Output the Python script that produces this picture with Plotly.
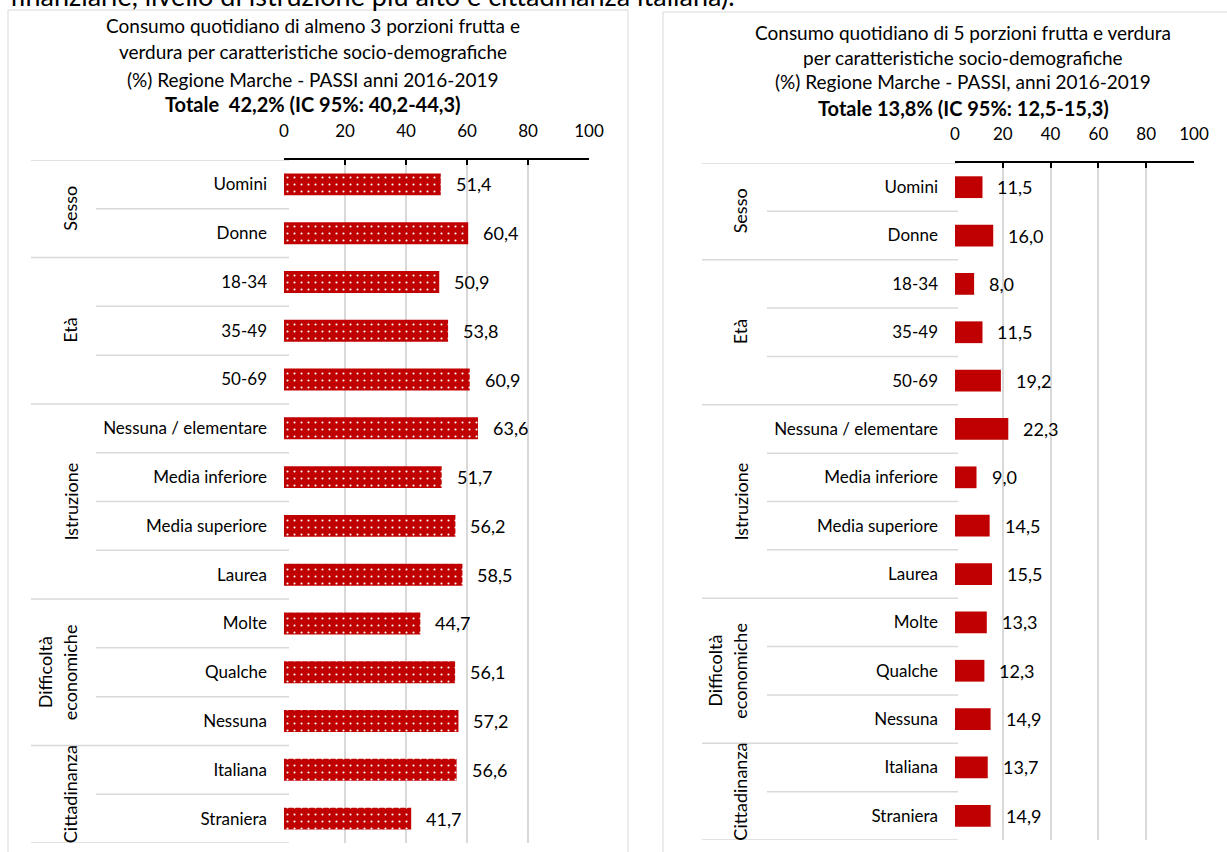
import plotly.graph_objects as go

W, H = 1227, 852
FONT = "Lato"
RED = "#C00000"
GRID = "#D9D9D9"

categories = ["Uomini", "Donne", "18-34", "35-49", "50-69",
              "Nessuna / elementare", "Media inferiore", "Media superiore", "Laurea",
              "Molte", "Qualche", "Nessuna", "Italiana", "Straniera"]
groups = ["Sesso", "Età", "Istruzione", "Difficoltà economiche", "Cittadinanza"]
group_sizes = [2, 3, 4, 3, 2]
values_3 = [51.4, 60.4, 50.9, 53.8, 60.9, 63.6, 51.7, 56.2, 58.5, 44.7, 56.1, 57.2, 56.6, 41.7]
values_5 = [11.5, 16.0, 8.0, 11.5, 19.2, 22.3, 9.0, 14.5, 15.5, 13.3, 12.3, 14.9, 13.7, 14.9]
x_ticks = [0, 20, 40, 60, 80, 100]

title_left = ["Consumo quotidiano di almeno 3 porzioni frutta e",
              "verdura per caratteristiche socio-demografiche",
              "(%) Regione Marche - PASSI anni 2016-2019",
              "<b>Totale  42,2% (IC 95%: 40,2-44,3)</b>"]
title_right = ["Consumo quotidiano di 5 porzioni frutta e verdura",
               "per caratteristiche socio-demografiche",
               "(%) Regione Marche - PASSI, anni 2016-2019",
               "<b>Totale 13,8% (IC 95%: 12,5-15,3)</b>"]
top_text = "finanziarie, livello di istruzione più alto e cittadinanza italiana)."


def px(x):
    return x / W


def py(y):
    return 1 - y / H


def fmt(v):
    return f"{v:.1f}".replace(".", ",")


fig = go.Figure()

fig.add_trace(go.Bar(
    x=values_3, y=categories, orientation="h", xaxis="x", yaxis="y",
    marker=dict(color=RED, line=dict(width=0),
                pattern=dict(shape=".", fgcolor="white", bgcolor=RED, size=7, solidity=0.07,
                             fillmode="replace")),
    hoverinfo="skip", showlegend=False))
fig.add_trace(go.Bar(
    x=values_5, y=categories, orientation="h", xaxis="x2", yaxis="y2",
    marker=dict(color=RED, line=dict(width=0)),
    hoverinfo="skip", showlegend=False))

xaxis_common = dict(range=[0, 100], side="top", tickvals=x_ticks, ticktext=[str(t) for t in x_ticks],
                    showgrid=True, gridcolor=GRID, gridwidth=1.5, zeroline=False,
                    showline=True, linecolor="black", linewidth=1.5,
                    ticks="inside", ticklen=5, tickwidth=1.5, tickcolor="black",
                    ticklabelstandoff=14, automargin=False,
                    tickfont=dict(family=FONT, size=17, color="black"), fixedrange=True)
yaxis_common = dict(categoryorder="array", categoryarray=categories,
                    range=[len(categories) - 0.5, -0.5], showgrid=False, zeroline=False,
                    showline=False, ticks="", ticklabelstandoff=16, automargin=False,
                    tickfont=dict(family=FONT, size=17, color="black"), fixedrange=True)

fig.update_layout(
    width=W, height=H, margin=dict(l=0, r=0, t=0, b=0, autoexpand=False),
    paper_bgcolor="white", plot_bgcolor="white", bargap=0.55,
    xaxis=dict(domain=[px(284), px(589)], anchor="y", **xaxis_common),
    yaxis=dict(domain=[py(843), py(160)], anchor="x", **yaxis_common),
    xaxis2=dict(domain=[px(955), px(1194)], anchor="y2", **xaxis_common),
    yaxis2=dict(domain=[py(840), py(163)], anchor="x2", **yaxis_common),
    font=dict(family=FONT, color="black"),
)

shapes = []
annotations = []

# panel borders
shapes.append(dict(type="rect", xref="paper", yref="paper", x0=px(8), x1=px(628), y0=-0.2, y1=py(10),
                   line=dict(color=GRID, width=1), fillcolor="rgba(0,0,0,0)", layer="below"))
shapes.append(dict(type="rect", xref="paper", yref="paper", x0=px(663), x1=1.2, y0=-0.2, y1=py(12),
                   line=dict(color=GRID, width=1), fillcolor="rgba(0,0,0,0)", layer="below"))

panels = [
    dict(yref="y", xref="x", vals=values_3, full=(31, 289), inner=(96, 289), gx=70, gx2=(45, 70),
         titles=title_left, tx=313, ty=[25, 52, 79, 104]),
    dict(yref="y2", xref="x2", vals=values_5, full=(702, 958), inner=(767, 958), gx=740, gx2=(715, 740),
         titles=title_right, tx=963, ty=[33, 57, 82, 108]),
]

for p in panels:
    # separators
    start = 0
    boundaries_full = [-0.5]
    for gs in group_sizes:
        start += gs
        boundaries_full.append(start - 0.5)
    inner = []
    start = 0
    for gs in group_sizes:
        for k in range(1, gs):
            inner.append(start + k - 0.5)
        start += gs
    for b in boundaries_full:
        shapes.append(dict(type="line", xref="paper", yref=p["yref"], x0=px(p["full"][0]), x1=px(p["full"][1]),
                           y0=b, y1=b, line=dict(color=GRID, width=1.5)))
    for b in inner:
        shapes.append(dict(type="line", xref="paper", yref=p["yref"], x0=px(p["inner"][0]), x1=px(p["inner"][1]),
                           y0=b, y1=b, line=dict(color=GRID, width=1.5)))
    # group labels
    start = 0
    for g, gs in zip(groups, group_sizes):
        center = start + (gs - 1) / 2
        if " " in g:
            parts = g.split(" ")
            for part, gx in zip(parts, p["gx2"]):
                annotations.append(dict(text=part, xref="paper", yref=p["yref"], x=px(gx), y=center,
                                        textangle=-90, showarrow=False, xanchor="center", yanchor="middle",
                                        font=dict(family=FONT, size=18, color="black")))
        else:
            annotations.append(dict(text=g, xref="paper", yref=p["yref"], x=px(p["gx"]), y=center,
                                    textangle=-90, showarrow=False, xanchor="center", yanchor="middle",
                                    font=dict(family=FONT, size=18, color="black")))
        start += gs
    # value labels
    for c, v in zip(categories, p["vals"]):
        annotations.append(dict(text=fmt(v), xref=p["xref"], yref=p["yref"], x=v, y=c, xanchor="left",
                                xshift=13, showarrow=False, font=dict(family=FONT, size=18, color="black")))
    # titles
    for i, (t, y) in enumerate(zip(p["titles"], p["ty"])):
        annotations.append(dict(text=t, xref="paper", yref="paper", x=px(p["tx"]), y=py(y), xanchor="center",
                                yanchor="middle", showarrow=False,
                                font=dict(family=FONT, size=20 if i == 3 else 19, color="black")))

annotations.append(dict(text=top_text, xref="paper", yref="paper", x=px(737), y=py(-4), xanchor="right",
                        yanchor="middle", showarrow=False, font=dict(family=FONT, size=27, color="black")))

fig.update_layout(shapes=shapes, annotations=annotations)
fig.write_html("out.html")
